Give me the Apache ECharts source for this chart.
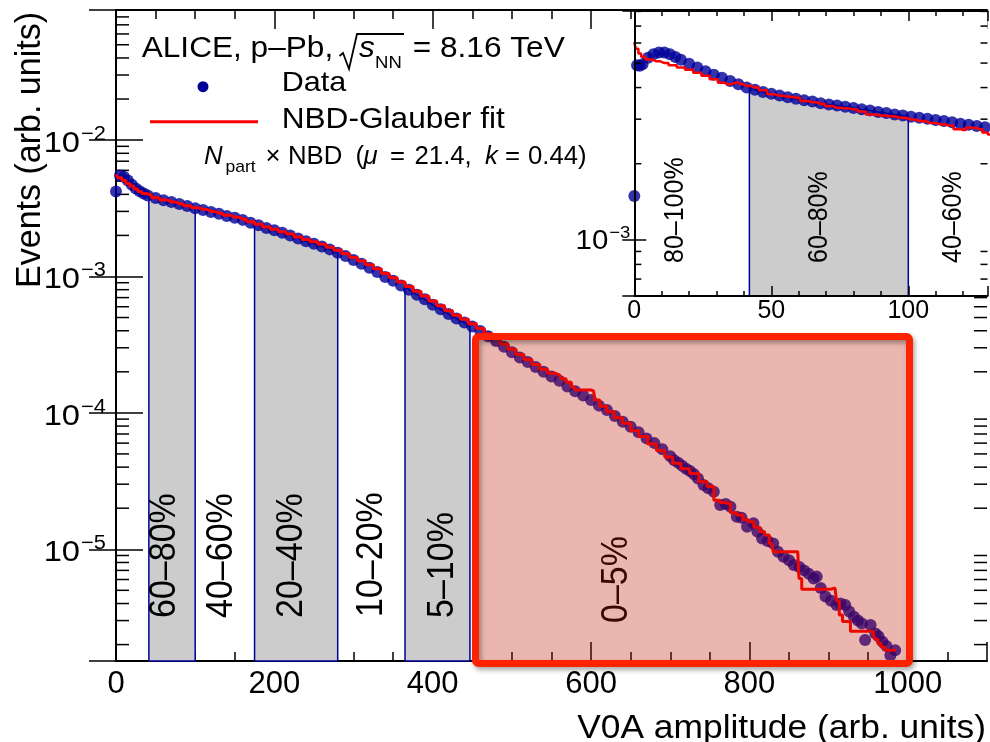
<!DOCTYPE html>
<html><head><meta charset="utf-8">
<script src="https://cdn.jsdelivr.net/npm/echarts/dist/echarts.min.js"></script>
<style>html,body{margin:0;padding:0;background:#fff}#c{width:990px;height:742px}</style>
</head><body><div id="c"></div>
<script>
const FONT = '"Liberation Sans", Arial, Helvetica, sans-serif';

// ---------- main panel: data (V0A amplitude, events) ----------
const dataX = [0,5,10,15,20,25,30,35,40,50,60,70,80,90,100,110,120,130,140,150,160,170,180,190,200,210,220,230,240,250,260,270,280,290,300,310,320,330,340,350,360,370,380,390,400,410,420,430,440,450,460,470,480,490,500,510,520,530,540,550,560,570,580,590,600,610,620,630,640,650,660,670,680,690,700,705,710,715,720,725,730,735,742,748,755,763,770,776,784,790,797,805,810,816,823,830,836,843,850,856,863,869,875,881,885,890,896,903,910,915,921,926,932,937,942,946,953,959,963,968,973,978,984];
const dataY = [4.2e-3,5.5e-3,5.38e-3,5.05e-3,4.7e-3,4.42e-3,4.22e-3,4.06e-3,3.93e-3,3.76e-3,3.62e-3,3.51e-3,3.40e-3,3.28e-3,3.17e-3,3.07e-3,2.97e-3,2.88e-3,2.78e-3,2.69e-3,2.60e-3,2.48e-3,2.37e-3,2.27e-3,2.18e-3,2.09e-3,2.00e-3,1.90e-3,1.81e-3,1.74e-3,1.66e-3,1.58e-3,1.49e-3,1.41e-3,1.32e-3,1.24e-3,1.16e-3,1.08e-3,9.9e-4,9.3e-4,8.6e-4,8.0e-4,7.35e-4,6.8e-4,6.2e-4,5.75e-4,5.3e-4,4.92e-4,4.6e-4,4.3e-4,3.98e-4,3.64e-4,3.36e-4,3.05e-4,2.78e-4,2.55e-4,2.36e-4,2.17e-4,2.0e-4,1.85e-4,1.72e-4,1.56e-4,1.44e-4,1.34e-4,1.24e-4,1.13e-4,1.05e-4,9.5e-5,8.6e-5,7.9e-5,7.2e-5,6.5e-5,6.0e-5,5.4e-5,4.8e-5,4.5e-5,4.3e-5,4.1e-5,3.9e-5,3.75e-5,3.55e-5,3.3e-5,2.96e-5,2.8e-5,2.64e-5,2.11e-5,2.15e-5,2.05e-5,1.73e-5,1.7e-5,1.46e-5,1.55e-5,1.35e-5,1.2e-5,1.15e-5,1.1e-5,9.6e-6,8.8e-6,8.3e-6,7.66e-6,7.4e-6,7.0e-6,6.6e-6,6.1e-6,6.3e-6,5.2e-6,4.5e-6,4.2e-6,3.9e-6,4.0e-6,3.9e-6,3.5e-6,3.2e-6,3.0e-6,2.86e-6,2.16e-6,2.78e-6,2.41e-6,2.3e-6,2.1e-6,1.95e-6,1.67e-6,1.82e-6];

// ---------- main panel: NBD-Glauber fit ----------
const fitX = [0,5,10,15,20,25,30,35,40,50,60,70,80,90,100,110,120,130,140,150,160,170,180,190,200,210,220,230,240,250,260,270,280,290,300,310,320,330,340,350,360,370,380,390,400,410,420,430,440,450,460,470,480,490,500,510,520,530,540,550,560,565,572,578,583,590,597,603,607,615,624,634,645,655,666,677,688,698,708,719,730,742,751,759,766,772,780,788,795,801,810,816,822,828,832,840,848,855,861,864,868,878,888,898,908,912,915,920,925,930,940,950,956,960,964,968,974,980,985];
const fitY = [5.6e-3,5.3e-3,5.05e-3,4.8e-3,4.6e-3,4.38e-3,4.2e-3,4.06e-3,3.95e-3,3.78e-3,3.64e-3,3.52e-3,3.42e-3,3.3e-3,3.19e-3,3.1e-3,3.0e-3,2.91e-3,2.81e-3,2.72e-3,2.63e-3,2.52e-3,2.41e-3,2.31e-3,2.22e-3,2.13e-3,2.05e-3,1.95e-3,1.87e-3,1.8e-3,1.72e-3,1.64e-3,1.56e-3,1.47e-3,1.38e-3,1.3e-3,1.22e-3,1.14e-3,1.05e-3,9.8e-4,9.1e-4,8.45e-4,7.8e-4,7.2e-4,6.6e-4,6.1e-4,5.6e-4,5.2e-4,4.85e-4,4.5e-4,4.15e-4,3.8e-4,3.5e-4,3.2e-4,2.93e-4,2.68e-4,2.46e-4,2.26e-4,2.09e-4,1.95e-4,1.9e-4,1.78e-4,1.68e-4,1.55e-4,1.47e-4,1.47e-4,1.47e-4,1.45e-4,1.24e-4,1.12e-4,1.02e-4,9.2e-5,8.4e-5,7.4e-5,6.7e-5,5.9e-5,5.3e-5,4.75e-5,4.27e-5,3.9e-5,3.6e-5,3.13e-5,2.88e-5,2.29e-5,2.2e-5,2.17e-5,1.85e-5,1.78e-5,1.65e-5,1.59e-5,1.45e-5,1.35e-5,1.27e-5,1.1e-5,9.6e-6,9.6e-6,9.6e-6,9.6e-6,9.6e-6,6.1e-6,5.1e-6,5.1e-6,5.1e-6,5.1e-6,5.2e-6,4.2e-6,3.3e-6,2.95e-6,2.95e-6,2.5e-6,2.5e-6,2.5e-6,2.5e-6,2.2e-6,2.05e-6,1.92e-6,1.82e-6,1.82e-6,1.82e-6];

// ---------- inset (zoom of low amplitudes) ----------
const insetDataX = [0,1,2,3,5,7,9,11,13,15,17,20,23,26,29,32,35,38,41,44,47,50,53,56,59,62,65,68,71,74,77,80,83,86,89,92,95,98,101,104,107,110,113,116,119,122,125,128,131];
const insetDataY = [1.49e-3,4.9e-3,4.88e-3,4.95e-3,5.25e-3,5.42e-3,5.5e-3,5.5e-3,5.42e-3,5.28e-3,5.15e-3,4.97e-3,4.8e-3,4.64e-3,4.5e-3,4.37e-3,4.25e-3,4.12e-3,4.0e-3,3.92e-3,3.84e-3,3.78e-3,3.72e-3,3.66e-3,3.61e-3,3.56e-3,3.52e-3,3.47e-3,3.43e-3,3.4e-3,3.36e-3,3.32e-3,3.28e-3,3.25e-3,3.2e-3,3.17e-3,3.13e-3,3.1e-3,3.07e-3,3.04e-3,3.01e-3,2.98e-3,2.95e-3,2.92e-3,2.88e-3,2.85e-3,2.82e-3,2.79e-3,2.76e-3];
const insetFitX = [0,1,2,3,5,8,11,14,17,20,23,26,29,32,34,37,39,41,44,47,50,53,56,59,62,65,68,71,74,77,80,83,86,90,93,97,101,104,108,112,115,118,120,122,124,126,128,130];
const insetFitY = [6.05e-3,5.7e-3,5.45e-3,5.3e-3,5.17e-3,5.08e-3,5.0e-3,4.9e-3,4.8e-3,4.7e-3,4.58e-3,4.45e-3,4.31e-3,4.18e-3,4.12e-3,4.19e-3,4.12e-3,4.06e-3,4.0e-3,3.9e-3,3.76e-3,3.71e-3,3.68e-3,3.65e-3,3.54e-3,3.5e-3,3.45e-3,3.38e-3,3.33e-3,3.31e-3,3.28e-3,3.22e-3,3.13e-3,3.1e-3,3.08e-3,3.04e-3,2.99e-3,2.95e-3,2.9e-3,2.86e-3,2.83e-3,2.74e-3,2.72e-3,2.78e-3,2.77e-3,2.74e-3,2.66e-3,2.61e-3];

// ---------- centrality classes ----------
const mainGrayBands = [[41.5, 100], [175, 280], [365, 447]];
const insetGrayBands = [[42, 100]];
const mainBandLabels = ['60–80%', '40–60%', '20–40%', '10–20%', '5–10%', '0–5%'];
const insetBandLabels = ['80–100%', '60–80%', '40–60%'];

// ---------- axis ranges / tick labels ----------
const mainXRange = [0, 1100];
const mainYRange = [1.516e-6, 0.0899];
const insetXRange = [0, 128.9];
const insetYRange = [6.0e-4, 8.03e-3];
const mainXLabels = [0, 200, 400, 600, 800, 1000];
const insetXLabels = [0, 50, 100];
const mainYLabels = [1e-5, 1e-4, 1e-3, 1e-2];
const insetYLabels = [1e-3];

function pairs(xs, ys) { return xs.map((x, i) => [x, ys[i]]); }
function nearestY(xs, ys, x) {
  let best = 0;
  for (let i = 1; i < xs.length; i++) if (Math.abs(xs[i] - x) < Math.abs(xs[best] - x)) best = i;
  return ys[best];
}
function minorVals(lo, hi) {
  const out = [];
  for (let k = -8; k <= 0; k++) for (let m = 2; m <= 9; m++) {
    const v = m * Math.pow(10, k);
    if (v > lo && v < hi) out.push(v);
  }
  return out;
}
function bandRenderer(xs, ys, yMin) {
  return function (params, api) {
    const x0 = api.value(0), x1 = api.value(1);
    const pts = [api.coord([x0, yMin]), api.coord([x0, nearestY(xs, ys, x0)])];
    xs.forEach((x, i) => { if (x > x0 && x < x1) pts.push(api.coord([x, ys[i]])); });
    pts.push(api.coord([x1, nearestY(xs, ys, x1)]));
    pts.push(api.coord([x1, yMin]));
    return { type: 'polygon', shape: { points: pts },
      style: { fill: '#cccccc', stroke: '#000099', lineWidth: 1.5 } };
  };
}
function tickRenderer(xLeft, xRight, len) {
  return function (params, api) {
    const v = api.value(1);
    const a = api.coord([xLeft, v]), b = api.coord([xRight, v]);
    return { type: 'group', children: [
      { type: 'line', shape: { x1: a[0], y1: a[1], x2: a[0] + len, y2: a[1] }, style: { stroke: '#000', lineWidth: 1.5 } },
      { type: 'line', shape: { x1: b[0], y1: b[1], x2: b[0] - len, y2: b[1] }, style: { stroke: '#000', lineWidth: 1.5 } }
    ] };
  };
}
// power-of-ten labels "10" + superscript exponent, positioned from the axis scale
function decadeLabelRenderer(xLeft, gap, fb, fe, dyB, dyE) {
  return function (params, api) {
    const v = api.value(1);
    const a = api.coord([xLeft, v]);
    const e = Math.round(Math.log10(v));
    const xr = a[0] - gap;
    return { type: 'group', children: [
      { type: 'text', x: xr, y: a[1] + dyB, scaleX: 1.09,
        style: { text: '10', font: fb + 'px ' + FONT, fill: '#000', align: 'right', verticalAlign: 'middle' } },
      { type: 'text', x: xr + 1, y: a[1] + dyE, scaleX: 1.09,
        style: { text: '\u2212' + (-e), font: fe + 'px ' + FONT, fill: '#000', align: 'left', verticalAlign: 'middle' } }
    ] };
  };
}

const axisLineStyle = { color: '#000', width: 2 };
const tickLine = { color: '#000', width: 1.5 };

function xAxisCfg(grid, range, interval, split, majLen, minLen, pos, labels, fs, margin, z) {
  return {
    type: 'value', gridIndex: grid, min: range[0], max: range[1], interval: interval, position: pos,
    axisLine: { show: true, lineStyle: axisLineStyle }, splitLine: { show: false },
    axisTick: { show: true, inside: true, length: majLen, lineStyle: tickLine },
    minorTick: { show: true, splitNumber: split, length: minLen, lineStyle: tickLine },
    axisLabel: { show: !!labels, margin: margin, color: '#000', fontSize: fs, fontFamily: FONT,
      showMinLabel: true, showMaxLabel: true, hideOverlap: false,
      formatter: v => (labels && labels.some(l => Math.abs(l - v) < 1e-6)) ? String(v) : '' },
    z: z
  };
}
function yAxisCfg(grid, range, majLen, pos, z) {
  return {
    type: 'log', logBase: 10, gridIndex: grid, min: range[0], max: range[1], position: pos,
    axisLine: { show: true, lineStyle: axisLineStyle }, splitLine: { show: false },
    axisTick: { show: true, inside: true, length: majLen, lineStyle: tickLine },
    minorTick: { show: false }, axisLabel: { show: false },
    z: z
  };
}

const chart = echarts.init(document.getElementById('c'), null, { renderer: 'canvas' });

const mainMinor = minorVals(mainYRange[0], mainYRange[1]);
const insetMinor = minorVals(insetYRange[0], insetYRange[1]);

function txt(x, y, text, size, opts) {
  opts = opts || {};
  return { type: 'text', x: x, y: y, rotation: opts.rot || 0, scaleX: opts.sx || 1, scaleY: opts.sy || 1, z: opts.z || 50, silent: true,
    style: { text: text, fill: opts.fill || '#000', font: (opts.italic ? 'italic ' : '') + size + 'px ' + FONT,
      align: opts.align || 'left', verticalAlign: opts.va || 'middle' } };
}

const SX = 1.09;
const L4 = 25, SX4 = 1.03, Y4 = 157.5;
const graphics = [
  // axis titles
  txt(30, 12, 'Events (arb. units)', 34, { rot: Math.PI / 2, align: 'right', sy: 1.04 }),
  txt(986, 729, 'V0A amplitude (arb. units)', 34, { align: 'right', sx: 1.04 }),
  // legend / header
  txt(141.7, 48.8, 'ALICE, p\u2013Pb,', 29, { sx: SX }),
  { type: 'polyline', z: 50, silent: true, shape: { points: [[339.5, 56], [343, 53], [349, 69], [357, 34], [404, 34]] }, style: { stroke: '#000', lineWidth: 1.8, fill: null } },
  txt(359, 48.8, 's', 29, { italic: true, sx: SX }),
  txt(375, 63.3, 'NN', 17, { sx: SX }),
  txt(412.7, 48.8, '= 8.16 TeV', 29, { sx: SX }),
  { type: 'circle', z: 50, silent: true, shape: { cx: 203, cy: 86.7, r: 5.5 }, style: { fill: '#000099' } },
  txt(281.7, 83.3, 'Data', 28, { sx: SX }),
  { type: 'line', z: 50, silent: true, shape: { x1: 150, y1: 121.7, x2: 258, y2: 121.7 }, style: { stroke: '#ff0000', lineWidth: 3 } },
  txt(281.7, 119.7, 'NBD-Glauber fit', 29, { sx: SX }),
  txt(204, Y4, 'N', L4, { italic: true, sx: SX4 }),
  txt(225.5, 167.5, 'part', 17, { sx: SX4 }),
  txt(265.5, Y4, '\u00d7', L4, { sx: SX4 }),
  txt(288, Y4, 'NBD', L4, { sx: SX4 }),
  txt(355.5, Y4, '(', L4, { sx: SX4 }),
  txt(363.5, Y4, '\u03bc', L4, { italic: true, sx: SX4 }),
  txt(390, Y4, '=', L4, { sx: SX4 }),
  txt(414.5, Y4, '21.4,', L4, { sx: SX4 }),
  txt(485, Y4, 'k', L4, { italic: true, sx: SX4 }),
  txt(505, Y4, '=', L4, { sx: SX4 }),
  txt(528, Y4, '0.44)', L4, { sx: SX4 }),
  // centrality labels (main)
  txt(165, 618, mainBandLabels[0], 34, { rot: Math.PI / 2, sy: 1.1 }),
  txt(221.7, 618, mainBandLabels[1], 34, { rot: Math.PI / 2, sy: 1.1 }),
  txt(292, 618, mainBandLabels[2], 34, { rot: Math.PI / 2, sy: 1.1 }),
  txt(371.7, 617, mainBandLabels[3], 34, { rot: Math.PI / 2, sy: 1.1 }),
  txt(443, 618, mainBandLabels[4], 34, { rot: Math.PI / 2, sy: 1.1 }),
  txt(617, 623, mainBandLabels[5], 34, { rot: Math.PI / 2, sy: 1.1 }),
  // centrality labels (inset)
  txt(675.5, 263, insetBandLabels[0], 25, { rot: Math.PI / 2, sy: 1.1, z: 30 }),
  txt(819, 263, insetBandLabels[1], 25, { rot: Math.PI / 2, sy: 1.1, z: 30 }),
  txt(953, 263, insetBandLabels[2], 25, { rot: Math.PI / 2, sy: 1.1, z: 30 }),
  // highlighted 0-5% region
  { type: 'rect', z: 100, silent: true, shape: { x: 475.5, y: 336.5, width: 434, height: 327, r: 3 },
    style: { fill: 'rgba(194,19,0,0.31)' } },
  { type: 'rect', z: 101, silent: true, shape: { x: 475.5, y: 336.5, width: 434, height: 327, r: 3 },
    style: { fill: null, stroke: '#ff2200', lineWidth: 7, shadowBlur: 5, shadowColor: 'rgba(0,0,0,0.35)', shadowOffsetX: 2, shadowOffsetY: 3 } }
];

const option = {
  animation: false,
  backgroundColor: '#fff',
  grid: [
    { left: 116, top: 10, width: 871, height: 651, containLabel: false, outerBoundsMode: 'none', show: false },
    { left: 634.3, top: 11, width: 353.2, height: 285, containLabel: false, outerBoundsMode: 'none', show: true, backgroundColor: '#fff', borderWidth: 0, z: 10 }
  ],
  xAxis: [
    xAxisCfg(0, mainXRange, 200, 4, 19, 9, 'bottom', mainXLabels, 31, 8, 0),
    xAxisCfg(0, mainXRange, 200, 4, 19, 9, 'top', null, 31, 8, 0),
    xAxisCfg(1, insetXRange, 50, 5, 10, 5, 'bottom', insetXLabels, 25, 3, 14),
    xAxisCfg(1, insetXRange, 50, 5, 10, 5, 'top', null, 25, 3, 14)
  ],
  yAxis: [
    yAxisCfg(0, mainYRange, 27, 'left', 0),
    yAxisCfg(0, mainYRange, 27, 'right', 0),
    yAxisCfg(1, insetYRange, 12, 'left', 14),
    yAxisCfg(1, insetYRange, 12, 'right', 14)
  ],
  series: [
    { type: 'custom', name: 'bands', xAxisIndex: 0, yAxisIndex: 0, z: 1, silent: true,
      renderItem: bandRenderer(dataX, dataY, mainYRange[0]), data: mainGrayBands },
    { type: 'custom', name: 'minorTicks', xAxisIndex: 0, yAxisIndex: 0, z: 1, silent: true, clip: false,
      renderItem: tickRenderer(mainXRange[0], mainXRange[1], 13), data: mainMinor.map(v => [0, v]) },
    { type: 'custom', name: 'yLabels', xAxisIndex: 0, yAxisIndex: 0, z: 1, silent: true, clip: false,
      renderItem: decadeLabelRenderer(mainXRange[0], 36, 30, 20, 3.5, -5.5), data: mainYLabels.map(v => [0, v]) },
    { type: 'scatter', name: 'Data', xAxisIndex: 0, yAxisIndex: 0, z: 2, symbol: 'circle', symbolSize: 12,
      itemStyle: { color: '#000099' }, data: pairs(dataX, dataY) },
    { type: 'line', name: 'NBD-Glauber fit', xAxisIndex: 0, yAxisIndex: 0, z: 3, step: 'middle', showSymbol: false, symbol: 'none',
      lineStyle: { color: '#ff0000', width: 3 }, data: pairs(fitX, fitY) },

    { type: 'custom', name: 'insetBands', xAxisIndex: 2, yAxisIndex: 2, z: 11, silent: true,
      renderItem: bandRenderer(insetDataX, insetDataY, insetYRange[0]), data: insetGrayBands },
    { type: 'custom', name: 'insetMinorTicks', xAxisIndex: 2, yAxisIndex: 2, z: 14, silent: true, clip: false,
      renderItem: tickRenderer(insetXRange[0], insetXRange[1], 7), data: insetMinor.map(v => [0, v]) },
    { type: 'custom', name: 'insetYLabels', xAxisIndex: 2, yAxisIndex: 2, z: 14, silent: true, clip: false,
      renderItem: decadeLabelRenderer(insetXRange[0], 26, 27, 17, 1.7, -7), data: insetYLabels.map(v => [0, v]) },
    { type: 'scatter', name: 'Data (inset)', xAxisIndex: 2, yAxisIndex: 2, z: 12, symbol: 'circle', symbolSize: 12,
      itemStyle: { color: '#000099' }, data: pairs(insetDataX, insetDataY) },
    { type: 'line', name: 'Fit (inset)', xAxisIndex: 2, yAxisIndex: 2, z: 13, step: 'middle', showSymbol: false, symbol: 'none',
      lineStyle: { color: '#ff0000', width: 2.5 }, data: pairs(insetFitX, insetFitY) }
  ],
  graphic: graphics
};
chart.setOption(option);
</script></body></html>
